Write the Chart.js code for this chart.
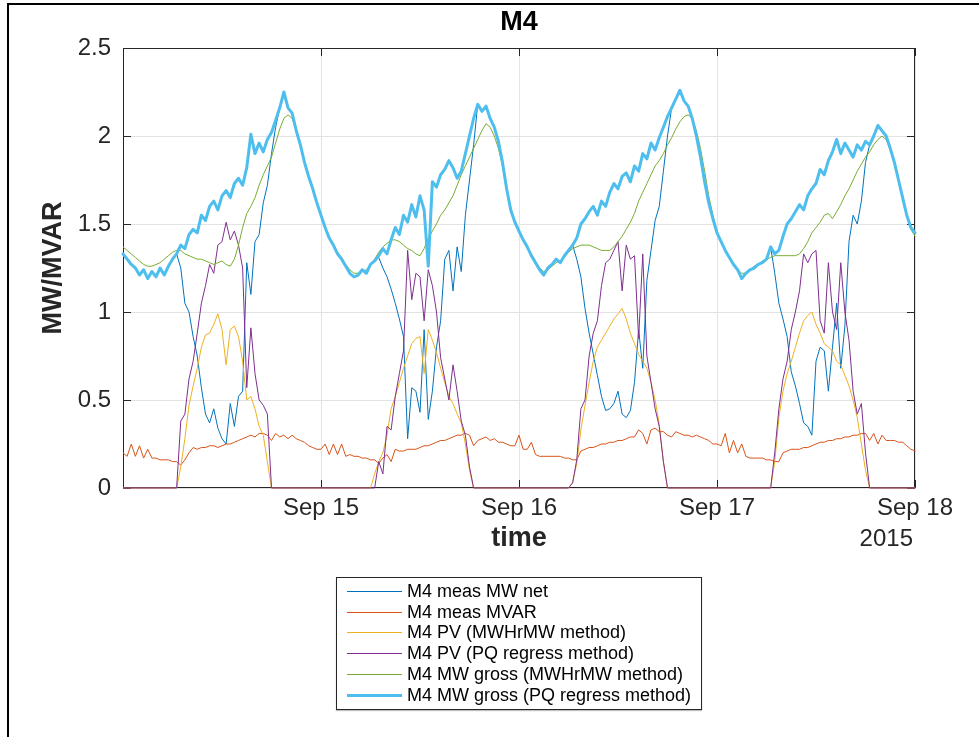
<!DOCTYPE html>
<html>
<head>
<meta charset="utf-8">
<script src="https://cdn.jsdelivr.net/npm/chart.js@4.4.1/dist/chart.umd.min.js"></script>
<style>
  html, body { margin: 0; padding: 0; background: #fff; }
  #wrap { position: relative; width: 979px; height: 737px; overflow: hidden; font-family: "Liberation Sans", Arial, Helvetica, sans-serif; }
  #fig-edge { position: absolute; left: 7px; top: 3px; width: 1200px; height: 900px; border-left: 2px solid #000; border-top: 2px solid #000; }
  canvas { position: absolute; left: 0; top: 0; }
  #legend { position: absolute; left: 336px; top: 577px; width: 364px; height: 131px; border: 1px solid #262626; background: #fff; box-shadow: 0 1px 1px rgba(0,0,0,0.25); }
  .row { position: absolute; left: 0; height: 20px; width: 100%; }
  .swatch { position: absolute; left: 10px; width: 55px; height: 0; }
  .label { position: absolute; left: 70px; top: 0; font-size: 18px; color: #000; white-space: nowrap; line-height: 20px; }
</style>
</head>
<body>
<div id="wrap">
  <div id="fig-edge"></div>
  <canvas id="chart" width="979" height="737"></canvas>
  <div id="legend"></div>
</div>
<script>
// Samples every half hour from Sep 14 00:00 to Sep 18 00:00 (hours 0..96).
const STEP_HOURS = 0.5;

const tickHours = [24, 48, 72, 96];
const tickLabels = ['Sep 15', 'Sep 16', 'Sep 17', 'Sep 18'];

const seriesNames = [
  'M4 meas MW net',
  'M4 meas MVAR',
  'M4 PV (MWHrMW method)',
  'M4 PV (PQ regress method)',
  'M4 MW gross (MWHrMW method)',
  'M4 MW gross (PQ regress method)'
];

const measMwNet = [
  1.33,1.30,1.27,1.25,1.21,1.24,1.19,1.23,1.20,1.25,1.21,1.26,
  1.30,1.33,1.25,1.05,1.00,0.86,0.75,0.57,0.42,0.37,0.45,0.34,
  0.28,0.25,0.48,0.35,0.52,0.55,1.28,1.10,1.40,1.44,1.62,1.72,
  1.90,2.05,2.16,2.25,2.16,2.13,2.03,1.95,1.85,1.77,1.70,1.62,
  1.55,1.48,1.42,1.38,1.33,1.30,1.26,1.22,1.20,1.21,1.24,1.22,
  1.27,1.29,1.31,1.25,1.20,1.13,1.05,0.96,0.86,0.28,0.57,0.55,
  0.43,0.90,0.39,0.55,0.80,0.95,1.30,1.35,1.12,1.37,1.23,1.55,
  1.75,1.95,2.18,2.14,2.17,2.10,2.05,1.97,1.85,1.70,1.58,1.51,
  1.46,1.41,1.37,1.32,1.28,1.24,1.21,1.25,1.27,1.30,1.28,1.32,
  1.35,1.38,1.30,1.20,1.02,0.88,0.76,0.64,0.52,0.44,0.45,0.48,
  0.55,0.42,0.40,0.44,0.60,0.90,0.68,1.18,1.35,1.52,1.60,1.80,
  2.00,2.16,2.21,2.26,2.20,2.17,2.10,2.00,1.88,1.74,1.62,1.53,
  1.45,1.40,1.35,1.31,1.27,1.24,1.19,1.22,1.24,1.25,1.27,1.28,
  1.30,1.37,1.22,1.05,0.96,0.86,0.66,0.58,0.48,0.37,0.35,0.30,
  0.72,0.80,0.78,0.55,0.80,1.05,0.68,0.92,1.40,1.55,1.50,1.63,
  1.85,1.95,2.00,2.06,2.03,2.00,1.93,1.85,1.75,1.65,1.55,1.48,
  1.45
];

const measMvar = [
  0.20,0.18,0.25,0.18,0.24,0.17,0.22,0.17,0.17,0.16,0.16,0.16,
  0.15,0.15,0.13,0.16,0.20,0.23,0.22,0.23,0.23,0.24,0.24,0.23,
  0.24,0.25,0.25,0.26,0.27,0.28,0.29,0.30,0.29,0.31,0.31,0.30,
  0.27,0.31,0.29,0.30,0.28,0.30,0.28,0.27,0.26,0.24,0.23,0.22,
  0.22,0.25,0.19,0.25,0.19,0.25,0.18,0.19,0.18,0.18,0.17,0.17,
  0.16,0.16,0.14,0.17,0.19,0.15,0.22,0.21,0.21,0.22,0.22,0.22,
  0.23,0.24,0.24,0.25,0.26,0.27,0.27,0.28,0.29,0.30,0.30,0.31,
  0.30,0.24,0.27,0.28,0.29,0.27,0.28,0.26,0.26,0.25,0.24,0.24,
  0.30,0.22,0.22,0.26,0.19,0.18,0.18,0.18,0.18,0.18,0.18,0.17,
  0.17,0.16,0.16,0.21,0.22,0.23,0.23,0.24,0.25,0.25,0.26,0.26,
  0.27,0.27,0.28,0.29,0.29,0.33,0.31,0.25,0.33,0.34,0.32,0.32,
  0.30,0.29,0.32,0.31,0.30,0.30,0.29,0.30,0.29,0.28,0.27,0.25,
  0.25,0.24,0.31,0.20,0.27,0.20,0.25,0.18,0.17,0.17,0.17,0.17,
  0.16,0.16,0.15,0.15,0.20,0.21,0.22,0.22,0.22,0.23,0.23,0.24,
  0.25,0.26,0.26,0.27,0.27,0.28,0.28,0.29,0.29,0.30,0.30,0.31,
  0.31,0.27,0.31,0.25,0.30,0.27,0.27,0.27,0.26,0.26,0.24,0.22,
  0.21
];

const pvMwhr = [
  0,0,0,0,0,0,0,0,0,0,0,0,
  0,0,0.12,0.28,0.47,0.58,0.68,0.80,0.87,0.88,0.93,0.99,
  0.90,0.70,0.90,0.92,0.86,0.72,0.50,0.52,0.45,0.35,0.30,0.15,
  0,0,0,0,0,0,0,0,0,0,0,0,
  0,0,0,0,0,0,0,0,0,0,0,0,
  0,0.08,0.15,0.20,0.30,0.45,0.52,0.60,0.68,0.75,0.82,0.85,
  0.86,0.65,0.90,0.84,0.77,0.68,0.60,0.52,0.48,0.42,0.37,0.25,
  0.10,0,0,0,0,0,0,0,0,0,0,0,
  0,0,0,0,0,0,0,0,0,0,0,0,
  0,0.03,0.14,0.33,0.47,0.60,0.72,0.80,0.84,0.88,0.92,0.96,
  0.99,1.02,0.96,0.88,0.82,0.76,0.72,0.68,0.60,0.50,0.36,0.15,
  0,0,0,0,0,0,0,0,0,0,0,0,
  0,0,0,0,0,0,0,0,0,0,0,0,
  0,0,0.15,0.40,0.55,0.65,0.72,0.80,0.88,0.95,0.98,1.00,
  0.93,0.88,0.82,0.80,0.78,0.72,0.70,0.64,0.58,0.50,0.40,0.25,
  0.10,0,0,0,0,0,0,0,0,0,0,0,
  0
];

const pvPqRegress = [
  0,0,0,0,0,0,0,0,0,0,0,0,
  0,0,0.38,0.42,0.62,0.72,0.88,1.05,1.15,1.27,1.22,1.38,
  1.40,1.51,1.41,1.46,1.38,1.25,0.57,0.91,0.65,0.50,0.47,0.42,
  0,0,0,0,0,0,0,0,0,0,0,0,
  0,0,0,0,0,0,0,0,0,0,0,0,
  0,0,0.15,0.08,0.35,0.33,0.52,0.65,0.78,1.35,1.07,1.22,
  1.20,0.95,1.24,1.15,1.00,0.74,0.62,0.50,0.70,0.55,0.38,0.30,
  0.12,0,0,0,0,0,0,0,0,0,0,0,
  0,0,0,0,0,0,0,0,0,0,0,0,
  0,0.03,0.16,0.45,0.50,0.75,0.88,0.95,1.15,1.28,1.30,1.35,
  1.40,1.12,1.38,1.30,1.32,0.85,1.33,0.75,0.60,0.45,0.35,0.15,
  0,0,0,0,0,0,0,0,0,0,0,0,
  0,0,0,0,0,0,0,0,0,0,0,0,
  0,0,0.20,0.45,0.62,0.72,0.90,1.00,1.12,1.33,1.28,1.33,
  1.35,0.95,0.88,1.28,1.00,0.90,1.28,1.00,0.84,0.55,0.42,0.48,
  0.20,0,0,0,0,0,0,0,0,0,0,0,
  0
];

const grossMwhr = [
  1.37,1.35,1.33,1.31,1.29,1.27,1.26,1.26,1.27,1.28,1.30,1.32,
  1.34,1.35,1.35,1.33,1.32,1.31,1.30,1.30,1.29,1.28,1.27,1.28,
  1.29,1.27,1.26,1.30,1.38,1.48,1.56,1.60,1.65,1.72,1.78,1.83,
  1.88,1.96,2.04,2.10,2.12,2.10,2.03,1.95,1.85,1.77,1.70,1.62,
  1.55,1.48,1.42,1.38,1.34,1.31,1.27,1.24,1.22,1.22,1.23,1.24,
  1.27,1.30,1.34,1.37,1.39,1.41,1.41,1.40,1.38,1.36,1.35,1.33,
  1.32,1.36,1.42,1.46,1.50,1.55,1.58,1.62,1.66,1.72,1.78,1.83,
  1.88,1.93,1.98,2.03,2.07,2.05,2.00,1.93,1.83,1.70,1.59,1.51,
  1.46,1.41,1.37,1.33,1.29,1.25,1.23,1.24,1.26,1.28,1.29,1.31,
  1.34,1.36,1.37,1.38,1.38,1.38,1.37,1.36,1.35,1.35,1.35,1.37,
  1.40,1.43,1.47,1.51,1.56,1.63,1.68,1.73,1.78,1.83,1.86,1.90,
  1.95,1.99,2.04,2.08,2.11,2.12,2.10,2.03,1.93,1.80,1.66,1.55,
  1.46,1.40,1.35,1.31,1.27,1.24,1.22,1.22,1.24,1.26,1.27,1.29,
  1.30,1.31,1.32,1.32,1.32,1.32,1.32,1.32,1.33,1.36,1.40,1.45,
  1.48,1.51,1.55,1.56,1.53,1.57,1.61,1.66,1.70,1.75,1.80,1.84,
  1.88,1.91,1.95,1.98,2.00,1.98,1.92,1.84,1.74,1.64,1.55,1.47,
  1.43
];

const grossPqRegress = [
  1.33,1.30,1.27,1.25,1.21,1.24,1.19,1.23,1.20,1.25,1.21,1.26,
  1.30,1.33,1.38,1.36,1.44,1.47,1.45,1.55,1.52,1.60,1.63,1.58,
  1.66,1.69,1.65,1.73,1.76,1.72,1.82,2.01,1.90,1.96,1.91,1.98,
  2.02,2.09,2.16,2.25,2.16,2.13,2.03,1.95,1.85,1.77,1.70,1.62,
  1.55,1.48,1.42,1.38,1.33,1.30,1.26,1.22,1.20,1.21,1.24,1.22,
  1.27,1.29,1.32,1.36,1.33,1.41,1.48,1.44,1.55,1.51,1.61,1.54,
  1.66,1.58,1.26,1.74,1.71,1.78,1.81,1.86,1.82,1.76,1.80,1.90,
  2.00,2.10,2.18,2.14,2.17,2.10,2.05,1.97,1.85,1.70,1.58,1.51,
  1.46,1.41,1.37,1.32,1.28,1.24,1.21,1.25,1.27,1.30,1.28,1.32,
  1.35,1.38,1.42,1.50,1.53,1.57,1.60,1.55,1.63,1.60,1.68,1.73,
  1.70,1.77,1.79,1.74,1.83,1.80,1.90,1.87,1.96,1.92,1.99,2.05,
  2.11,2.16,2.21,2.26,2.20,2.17,2.10,2.00,1.88,1.74,1.62,1.53,
  1.45,1.40,1.35,1.31,1.27,1.24,1.19,1.22,1.24,1.25,1.27,1.28,
  1.30,1.37,1.33,1.35,1.43,1.50,1.53,1.57,1.61,1.58,1.66,1.70,
  1.73,1.81,1.78,1.86,1.91,1.98,1.90,1.96,1.92,1.88,1.95,1.92,
  1.97,1.95,2.00,2.06,2.03,2.00,1.93,1.85,1.75,1.65,1.55,1.48,
  1.45
];

const seriesValues = [measMwNet, measMvar, pvMwhr, pvPqRegress, grossMwhr, grossPqRegress];
const seriesColors = ['#0072BD', '#D95319', '#EDB120', '#7E2F8E', '#77AC30', '#4DBEEE'];
const seriesWidths = [1, 1, 1, 1, 1, 3];

const FONT = '"Liberation Sans", Arial, Helvetica, sans-serif';
const INK = '#262626';

function toPoints(values) {
  return values.map((v, i) => ({ x: i * STEP_HOURS, y: v }));
}

const datasets = seriesValues.map((vals, i) => ({
  label: seriesNames[i],
  data: toPoints(vals),
  borderColor: seriesColors[i],
  backgroundColor: seriesColors[i],
  borderWidth: seriesWidths[i],
  pointRadius: 0,
  tension: 0,
  fill: false,
  borderJoinStyle: 'round',
  borderCapStyle: 'round',
  clip: 4,
  order: seriesValues.length - i   // later series sit on top
}));

// Axes box, inward tick marks and the text around the axes.
const axesDecor = {
  id: 'axesDecor',
  beforeDatasetsDraw(chart) {
    const { ctx, chartArea: { left, right, top, bottom }, scales: { x, y } } = chart;
    ctx.save();
    ctx.lineWidth = 1;
    ctx.strokeStyle = INK;
    ctx.beginPath();
    ctx.moveTo(left + 0.5, bottom - 0.5);
    ctx.lineTo(left + 0.5, top + 0.5);
    ctx.lineTo(right - 0.5, top + 0.5);
    ctx.lineTo(right - 0.5, bottom - 0.5);
    ctx.lineTo(left + 0.5, bottom - 0.5);
    ctx.stroke();
    const len = 8;
    ctx.beginPath();
    y.ticks.forEach(t => {
      const py = Math.round(y.getPixelForValue(t.value)) + 0.5;
      ctx.moveTo(left, py); ctx.lineTo(left + len, py);
      ctx.moveTo(right, py); ctx.lineTo(right - len, py);
    });
    tickHours.forEach(h => {
      const px = Math.round(x.getPixelForValue(h)) + 0.5;
      ctx.moveTo(px, bottom); ctx.lineTo(px, bottom - len);
      ctx.moveTo(px, top); ctx.lineTo(px, top + len);
    });
    ctx.stroke();
    ctx.restore();
  },
  afterDraw(chart) {
    const { ctx, chartArea: { left, right, top, bottom } } = chart;
    const cx = (left + right) / 2;
    ctx.save();
    ctx.fillStyle = '#000';
    ctx.textAlign = 'center';
    ctx.textBaseline = 'middle';
    ctx.font = 'bold 27px ' + FONT;
    ctx.fillText('M4', cx, 23);
    ctx.fillStyle = INK;
    ctx.fillText('time', cx, 539);
    ctx.save();
    ctx.translate(54, (top + bottom) / 2);
    ctx.rotate(-Math.PI / 2);
    ctx.fillText('MW/MVAR', 0, 0);
    ctx.restore();
    ctx.font = '24px ' + FONT;
    ctx.textAlign = 'right';
    ctx.fillText('2015', right - 2, 539);
    ctx.restore();
  }
};

new Chart(document.getElementById('chart'), {
  type: 'line',
  data: { datasets },
  options: {
    responsive: false,
    devicePixelRatio: 1,
    animation: false,
    events: [],
    layout: { padding: { left: 0, right: 64, top: 48, bottom: 0 } },
    plugins: { legend: { display: false }, tooltip: { enabled: false }, title: { display: false } },
    scales: {
      x: {
        type: 'linear',
        min: 0,
        max: 96,
        afterFit: s => { s.height = 249; },
        afterBuildTicks: s => { s.ticks = [0].concat(tickHours).map(v => ({ value: v })); },
        ticks: {
          autoSkip: false,
          maxRotation: 0,
          padding: 6,
          color: INK,
          font: { family: FONT, size: 24 },
          callback: v => { const k = tickHours.indexOf(v); return k >= 0 ? tickLabels[k] : ''; }
        },
        grid: { color: '#e3e3e3', drawTicks: false },
        border: { display: false }
      },
      y: {
        min: 0,
        max: 2.5,
        afterFit: s => { s.width = 123; },
        ticks: {
          stepSize: 0.5,
          padding: 12,
          color: INK,
          font: { family: FONT, size: 24 },
          callback: v => String(Math.round(v * 10) / 10)
        },
        grid: { color: '#e3e3e3', drawTicks: false },
        border: { display: false }
      }
    }
  },
  plugins: [axesDecor]
});

// Legend box below the axes
const legend = document.getElementById('legend');
seriesNames.forEach((name, i) => {
  const row = document.createElement('div');
  row.className = 'row';
  row.style.top = Math.round(3 + i * 20.7) + 'px';
  const sw = document.createElement('div');
  sw.className = 'swatch';
  sw.style.top = (10 - Math.floor(seriesWidths[i] / 2)) + 'px';
  sw.style.borderTop = seriesWidths[i] + 'px solid ' + seriesColors[i];
  const lb = document.createElement('div');
  lb.className = 'label';
  lb.textContent = name;
  row.appendChild(sw);
  row.appendChild(lb);
  legend.appendChild(row);
});
</script>
</body>
</html>
